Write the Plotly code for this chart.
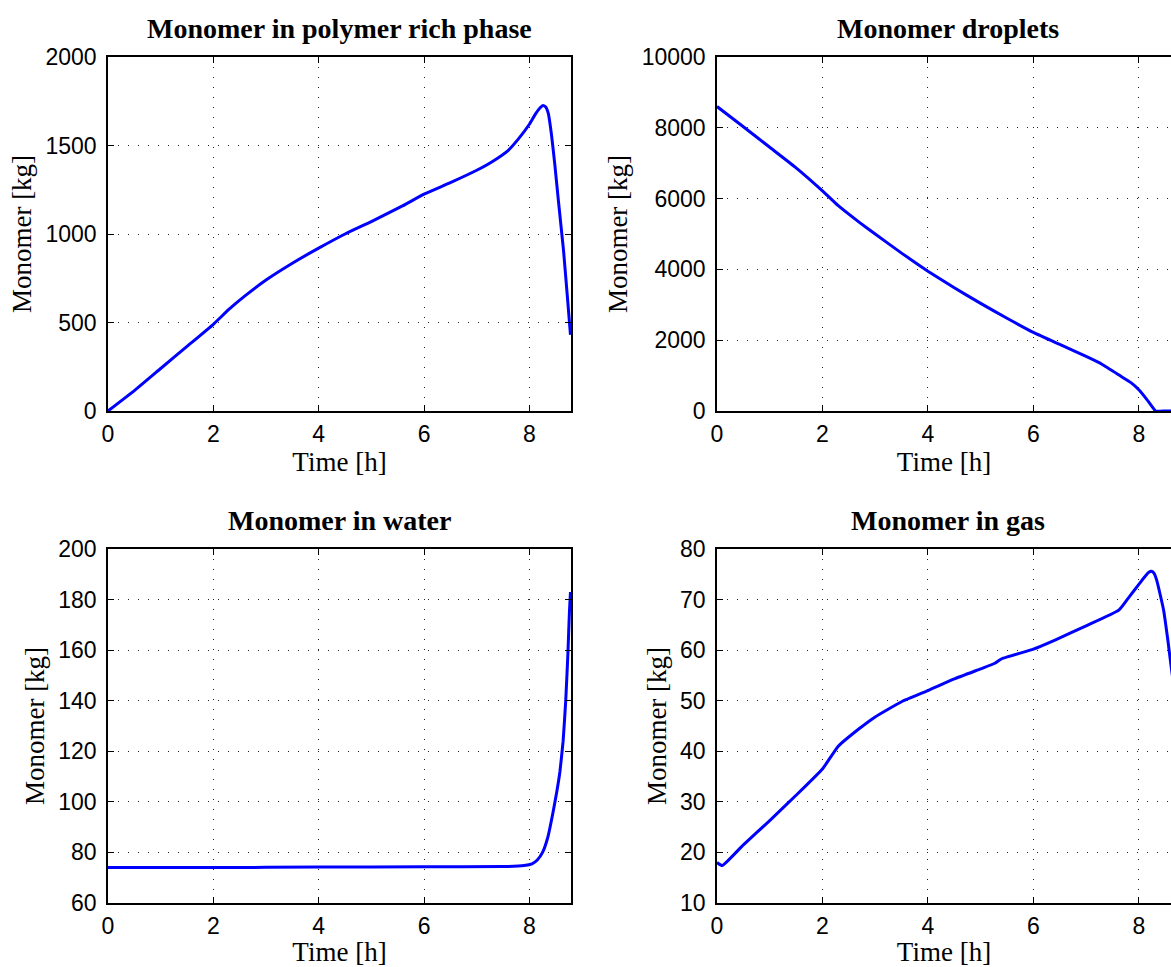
import plotly.graph_objects as go

# Data
t_rich = [0, 0.5, 1, 1.5, 2, 2.3, 2.6, 3, 3.5, 4, 4.5, 5, 5.3, 5.6, 6, 6.5, 7, 7.3, 7.6, 7.8, 8.0, 8.12, 8.2, 8.26, 8.31, 8.36, 8.42, 8.48, 8.55, 8.65, 8.72, 8.78]
m_rich = [0, 115, 240, 365, 490, 575, 650, 740, 835, 920, 1000, 1070, 1115, 1160, 1225, 1290, 1360, 1410, 1473, 1540, 1620, 1680, 1712, 1726, 1718, 1680, 1560, 1400, 1190, 900, 650, 430]

t_drop = [0, 0.5, 1, 1.5, 2, 2.3, 2.7, 3, 3.5, 4, 4.5, 5, 5.5, 6, 6.5, 7, 7.3, 7.66, 7.85, 8.0, 8.15, 8.32, 8.5, 8.78]
m_drop = [8600, 8030, 7450, 6870, 6220, 5800, 5330, 5000, 4460, 3950, 3480, 3040, 2620, 2220, 1880, 1540, 1320, 980, 800, 600, 330, 0, 0, 0]

t_water = [0, 2, 4, 6, 7.5, 7.9, 8.05, 8.15, 8.25, 8.35, 8.45, 8.52, 8.58, 8.64, 8.69, 8.73, 8.76, 8.78]
m_water = [74.0, 74.0, 74.2, 74.3, 74.4, 74.8, 75.5, 77, 80, 86, 96, 104, 112, 124, 140, 158, 175, 183]

t_gas = [0, 0.1, 0.5, 1, 1.5, 2, 2.3, 2.7, 3, 3.5, 4, 4.5, 5, 5.27, 5.4, 6, 6.41, 7, 7.62, 7.8, 8.0, 8.12, 8.19, 8.24, 8.29, 8.34, 8.4, 8.47, 8.55, 8.61, 8.7, 8.78]
m_gas = [18, 17.4, 21.5, 26.3, 31.3, 36.5, 41, 44.5, 46.8, 49.8, 52, 54.3, 56.3, 57.4, 58.3, 60.2, 62.0, 64.8, 67.9, 70.3, 73, 74.6, 75.4, 75.6, 75.2, 73.8, 71.2, 67.9, 62, 57, 50, 45]

titles = ["Monomer in polymer rich phase", "Monomer droplets", "Monomer in water", "Monomer in gas"]
x_label = "Time [h]"
y_label = "Monomer [kg]"
x_ticks = [0, 2, 4, 6, 8]
y_ranges = [[0, 2000], [0, 10000], [60, 200], [10, 80]]
y_dticks = [500, 2000, 20, 10]

W, H = 1171, 967
# pixel boxes (left, right, top, bottom)
boxes = [(108, 571, 57, 411), (717, 1171, 57, 411), (108, 571, 549, 903), (717, 1171, 549, 903)]
x_ranges = [[0, 8.79], [0, 8.61], [0, 8.79], [0, 8.61]]

series = [(t_rich, m_rich), (t_drop, m_drop), (t_water, m_water), (t_gas, m_gas)]

fig = go.Figure()
tick_font = dict(family="Liberation Sans, Arial, sans-serif", size=23, color="black")
lab_font = dict(family="Liberation Serif, Times New Roman, serif", size=27, color="black")
title_font = dict(family="Liberation Serif, Times New Roman, serif", size=28, color="black")

grid = dict(showgrid=True, gridcolor="#222222", gridwidth=1, griddash="1px,9px")

annotations = []
for i, ((tx, ty), (l, r, tp, bt)) in enumerate(zip(series, boxes)):
    n = "" if i == 0 else str(i + 1)
    fig.add_trace(go.Scatter(x=tx, y=ty, mode="lines",
                             line=dict(color="#0000ff", width=3, shape="spline", smoothing=0.4),
                             xaxis="x" + n, yaxis="y" + n, showlegend=False, cliponaxis=True))
    right_clipped = r >= W
    xa = dict(domain=[l / W, r / W], range=x_ranges[i], anchor="y" + n, automargin=False,
              tickvals=x_ticks, ticks="inside", ticklen=6, tickcolor="black",
              showline=True, linecolor="black", linewidth=1.5, mirror="ticks",
              zeroline=False, tickfont=tick_font, ticklabelstandoff=2,
              title=dict(text=x_label, font=lab_font, standoff=0), **grid)
    ya = dict(domain=[1 - bt / H, 1 - tp / H], range=y_ranges[i], anchor="x" + n, automargin=False,
              dtick=y_dticks[i], tickformat="d", ticks="inside", ticklen=6, tickcolor="black",
              showline=True, linecolor="black", linewidth=1.5,
              mirror=False if right_clipped else "ticks",
              zeroline=False, tickfont=tick_font, ticklabelstandoff=5,
              title=dict(text=y_label, font=lab_font, standoff=6), **grid)
    fig.layout["xaxis" + n] = xa
    fig.layout["yaxis" + n] = ya
    cx = (l + (l + 463)) / 2 / W
    annotations.append(dict(text="<b>" + titles[i] + "</b>", x=cx, xref="paper", xanchor="center",
                            y=1 - (tp - 11) / H, yref="paper", yanchor="bottom",
                            showarrow=False, font=title_font))

fig.update_layout(width=W, height=H, margin=dict(l=0, r=0, t=0, b=0),
                  paper_bgcolor="white", plot_bgcolor="white", annotations=annotations)
fig.write_html("out.html")
